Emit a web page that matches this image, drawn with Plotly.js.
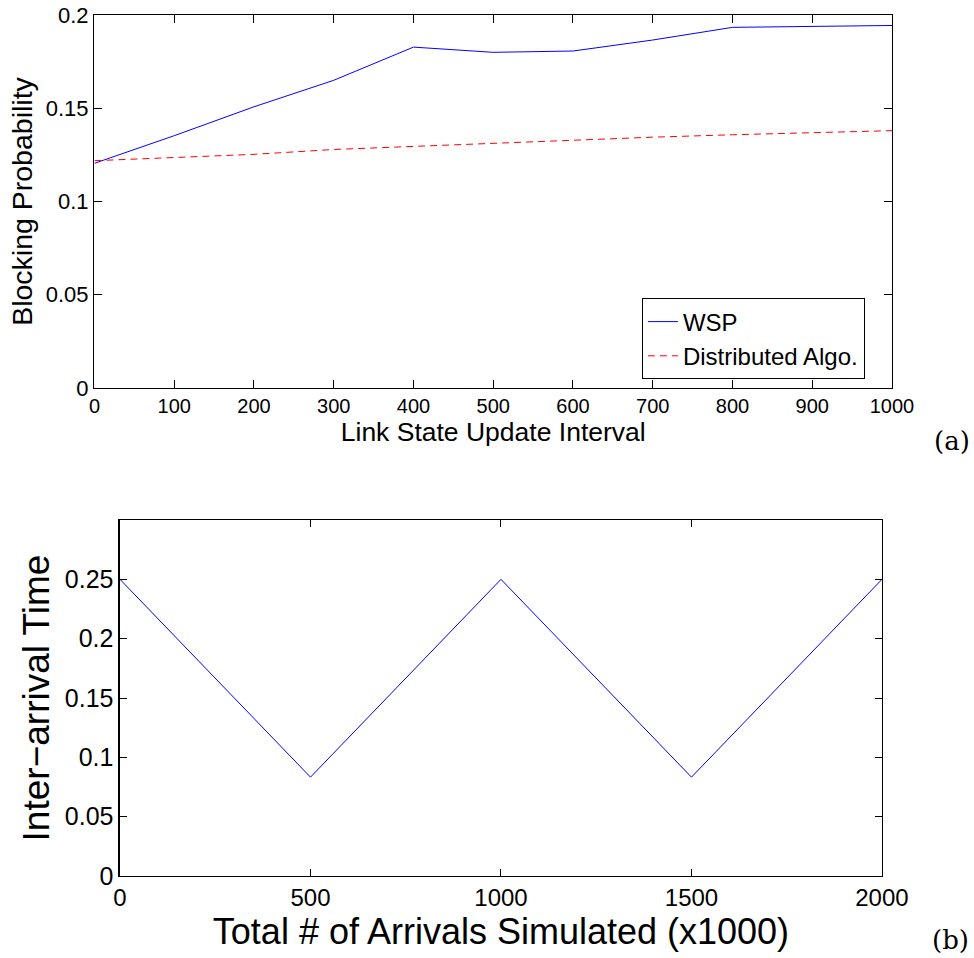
<!DOCTYPE html>
<html>
<head>
<meta charset="utf-8">
<script src="https://cdn.plot.ly/plotly-3.0.1.min.js"></script>
<style>html,body{margin:0;padding:0;background:#fff;}#chart{width:974px;height:958px;}</style>
</head>
<body>
<div id="chart"></div>
<script>
// Panel (a)
const updateInterval = [0, 100, 200, 300, 400, 500, 600, 700, 800, 900, 1000];
const wspBlocking = [0.1205, 0.1353, 0.1508, 0.1650, 0.1828, 0.1800, 0.1807, 0.1866, 0.1934, 0.1937, 0.1944];
const distBlocking = [0.1219, 0.1236, 0.1253, 0.1279, 0.1295, 0.1315, 0.1330, 0.1345, 0.1358, 0.1370, 0.1380];
const yTicksA = [0, 0.05, 0.1, 0.15, 0.2];
const xTicksA = [0, 100, 200, 300, 400, 500, 600, 700, 800, 900, 1000];
// Panel (b)
const arrivals = [0, 500, 1000, 1500, 2000];
const interArrival = [0.25, 0.0833, 0.25, 0.0833, 0.25];
const xTicksB = [0, 500, 1000, 1500, 2000];
const yTicksB = [0, 0.05, 0.1, 0.15, 0.2, 0.25];

const font = 'Liberation Sans, Arial, Helvetica, sans-serif';
const axisCommon = {
  showline: true, linecolor: '#000', linewidth: 1.5, mirror: 'ticks',
  ticks: 'inside', tickcolor: '#000', tickwidth: 1, showgrid: false, zeroline: false
};

const traces = [
  {x: updateInterval, y: wspBlocking, type: 'scatter', mode: 'lines', name: 'WSP',
   line: {color: '#0000ff', width: 1}, xaxis: 'x', yaxis: 'y'},
  {x: updateInterval, y: distBlocking, type: 'scatter', mode: 'lines', name: 'Distributed Algo.',
   line: {color: '#ff0000', width: 1, dash: '7px,5px'}, xaxis: 'x', yaxis: 'y'},
  {x: arrivals, y: interArrival, type: 'scatter', mode: 'lines', name: 'Inter-arrival',
   line: {color: '#0000ff', width: 1}, xaxis: 'x2', yaxis: 'y2', showlegend: false}
];

const layout = {
  width: 974, height: 958,
  margin: {l: 0, r: 0, t: 0, b: 0},
  paper_bgcolor: '#fff', plot_bgcolor: '#fff',
  font: {family: font, color: '#000'},
  showlegend: true,
  legend: {x: 641.7/974, y: 1 - 379.3/958, xanchor: 'left', yanchor: 'bottom',
    bordercolor: '#000', borderwidth: 1.2, bgcolor: '#fff',
    font: {size: 24, family: font}, tracegroupgap: 0, itemwidth: 30},
  xaxis: Object.assign({}, axisCommon, {
    domain: [0.0970, 0.9158], range: [0, 1000], anchor: 'y',
    tickvals: xTicksA, ticklen: 8, tickfont: {size: 20},
    title: {text: 'Link State Update Interval', font: {size: 26.5}, standoff: 2}
  }),
  yaxis: Object.assign({}, axisCommon, {
    domain: [0.5950, 0.9843], range: [0, 0.2], anchor: 'x',
    tickvals: yTicksA, ticklen: 8, tickfont: {size: 22},
    title: {text: 'Blocking Probability', font: {size: 28.5}, standoff: 5}
  }),
  xaxis2: Object.assign({}, axisCommon, {
    domain: [0.1232, 0.9055], range: [0, 2000], anchor: 'y2',
    tickvals: xTicksB, ticklen: 7, tickfont: {size: 24},
    title: {text: 'Total # of Arrivals Simulated (x1000)', font: {size: 36}, standoff: 0}
  }),
  yaxis2: Object.assign({}, axisCommon, {
    domain: [0.0856, 0.4572], range: [0, 0.3], anchor: 'x2',
    tickvals: yTicksB, ticklen: 7, tickfont: {size: 25},
    title: {text: 'Inter\u2212arrival Time', font: {size: 37}, standoff: 4}
  }),
  annotations: [
    {text: '(a)', xref: 'paper', yref: 'paper', x: 952/974, y: 1 - 441/958,
     xanchor: 'center', yanchor: 'middle', showarrow: false,
     font: {family: 'DejaVu Serif, Liberation Serif, serif', size: 26}},
    {text: '(b)', xref: 'paper', yref: 'paper', x: 950/974, y: 1 - 940/958,
     xanchor: 'center', yanchor: 'middle', showarrow: false,
     font: {family: 'DejaVu Serif, Liberation Serif, serif', size: 26}}
  ]
};

Plotly.newPlot('chart', traces, layout, {displayModeBar: false, staticPlot: true});
</script>
</body>
</html>
